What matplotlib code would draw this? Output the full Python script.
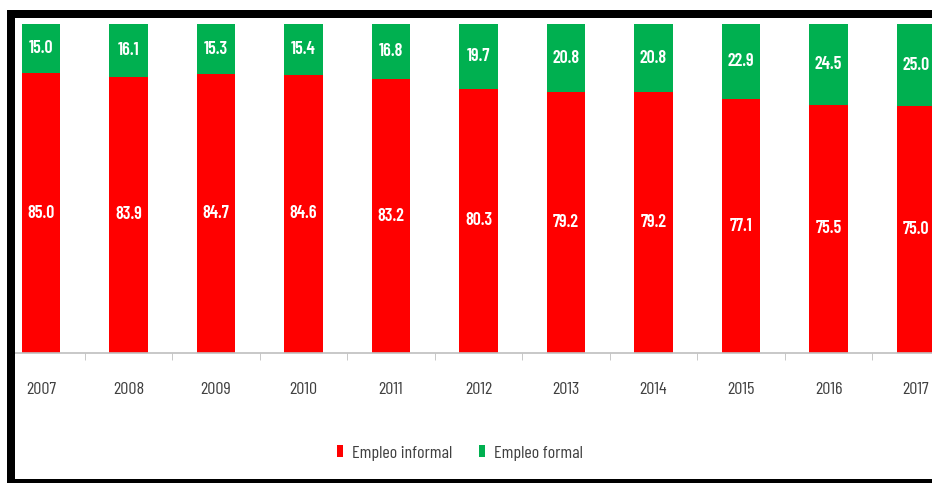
import matplotlib.pyplot as plt
from matplotlib.patches import Rectangle
import numpy as np

plt.rcParams['font.family'] = ['Barlow Condensed', 'DejaVu Sans']

# datos del grafico
anios = ['2007', '2008', '2009', '2010', '2011', '2012', '2013', '2014', '2015', '2016', '2017']
informal = [85.0, 83.9, 84.7, 84.6, 83.2, 80.3, 79.2, 79.2, 77.1, 75.5, 75.0]
formal = [15.0, 16.1, 15.3, 15.4, 16.8, 19.7, 20.8, 20.8, 22.9, 24.5, 25.0]

rojo = '#ff0000'
verde = '#00b050'

W, H = 932, 483
fig = plt.figure(figsize=(W / 100, H / 100), dpi=100)
ax = fig.add_axes([15 / W, 1 - 353 / H, 1 - 15 / W, 329 / H])

x = np.arange(len(anios))
ancho = 0.435
b1 = ax.bar(x, informal, ancho, color=rojo, label='Empleo informal')
b2 = ax.bar(x, formal, ancho, bottom=informal, color=verde, label='Empleo formal')

# etiquetas de valores dentro de las barras
for i in range(len(anios)):
    ax.text(x[i], informal[i] / 2, f'{informal[i]:.1f}', ha='center', va='center',
            color='white', fontsize=13, fontweight='semibold')
    ax.text(x[i], informal[i] + formal[i] / 2, f'{formal[i]:.1f}', ha='center', va='center',
            color='white', fontsize=13, fontweight='semibold')

ax.set_ylim(0, 100)
ax.set_xlim((15 - 41) / 87.5, (W - 41) / 87.5)
ax.set_yticks([])
for s in ['top', 'right', 'left']:
    ax.spines[s].set_visible(False)
ax.spines['bottom'].set_color('#bfbfbf')
ax.spines['bottom'].set_linewidth(1.2)

ax.set_xticks(x)
ax.set_xticklabels(anios, fontsize=13, color='#404040')
ax.tick_params(axis='x', length=0, pad=21)
ax.set_xticks(x[:-1] + 0.5, minor=True)
ax.tick_params(axis='x', which='minor', length=5, color='#bfbfbf', direction='out')

fig.legend(handles=[b1, b2], loc='center', bbox_to_anchor=(460 / W, 1 - 453 / H),
           ncol=2, frameon=False, fontsize=13, handlelength=0.32, handleheight=0.6,
           handletextpad=0.5, columnspacing=1.5, labelcolor='#404040')

# marco negro
marco = [(7, 10, W - 7, 8), (7, 10, 8, H - 10), (7, 479, W - 7, 4)]
for (px, py, pw, ph) in marco:
    fig.add_artist(Rectangle((px / W, 1 - (py + ph) / H), pw / W, ph / H,
                             transform=fig.transFigure, color='black', lw=0))

fig.savefig('out.png', dpi=100)
